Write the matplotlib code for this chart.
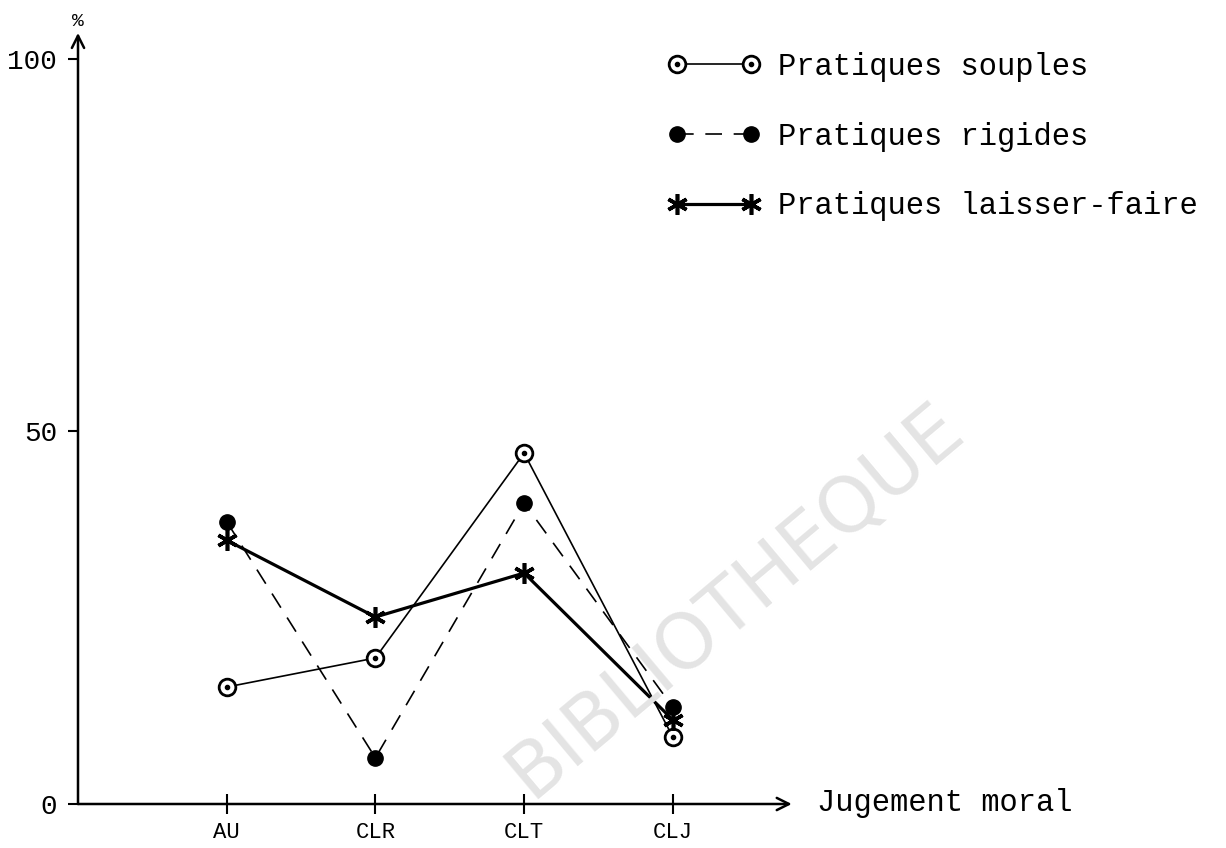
import matplotlib
matplotlib.use("Agg")
import matplotlib.pyplot as plt

# data
categories = ["AU", "CLR", "CLT", "CLJ"]
souples = [15.7, 19.6, 47.1, 9.0]
rigides = [37.9, 6.2, 40.4, 13.0]
laisser_faire = [35.4, 25.1, 31.0, 11.3]
y_ticks = [0, 50, 100]
labels = ["Pratiques souples", "Pratiques rigides", "Pratiques laisser-faire"]

plt.rcParams["font.family"] = ["Liberation Mono", "DejaVu Sans Mono"]

W, H = 1226, 848
X0, Y0 = 78, 804          # pixel position of the origin
SX, SY = 148.7, 7.45      # pixels per x unit / per y unit

fig = plt.figure(figsize=(W / 100, H / 100), dpi=100)
ax = fig.add_axes([X0 / W, (H - Y0) / H, (W - X0) / W, (Y0 - 10) / H])
ax.set_xlim(0, (W - X0) / SX)
ax.set_ylim(0, (Y0 - 10) / SY)
for s in ax.spines.values():
    s.set_visible(False)

# watermark
fig.text(735 / W, 1 - 600 / H, "BIBLIOTHEQUE", fontsize=55, color="#e4e4e4",
         rotation=40, ha="center", va="center", family="DejaVu Sans", zorder=0)

# axes drawn as arrows
arrow = dict(arrowstyle="->", lw=1.8, color="black", mutation_scale=22,
             shrinkA=0, shrinkB=0)
ax.annotate("", xy=(0, 103.5), xytext=(0, 0), arrowprops=arrow)
ax.annotate("", xy=(4.8, 0), xytext=(0, 0), arrowprops=arrow)

x = range(1, len(categories) + 1)

l1, = ax.plot(x, souples, color="black", lw=1.2, marker="o", ms=12,
              mfc="white", mec="black", mew=2.0, zorder=3)
d1, = ax.plot(x, souples, ls="none", marker="o", ms=3, color="black", zorder=4)
l2, = ax.plot(x, rigides, color="black", lw=1.2, ls=(0, (10, 7)), marker="o",
              ms=11, zorder=3)
l3, = ax.plot(x, laisser_faire, color="black", lw=2.3, marker=(6, 2, 0),
              ms=15, mew=2.6, zorder=3)

ax.set_xticks(list(x))
ax.set_xticklabels(categories, fontsize=16)
ax.tick_params(axis="x", direction="inout", length=14, width=1.5, pad=6)
ax.set_yticks(y_ticks)
ax.set_yticklabels([str(v) for v in y_ticks], fontsize=20)
ax.tick_params(axis="y", direction="out", length=7, width=1.5, pad=8)

fig.text(X0 / W, 1 - 21 / H, "%", fontsize=14, ha="center", va="center")
fig.text(817 / W, 1 - 803 / H, "Jugement moral", fontsize=22,
         ha="left", va="center")

leg = ax.legend([(l1, d1), l2, l3], labels,
                loc="upper left", bbox_to_anchor=(668 / W, 1 - 52 / H),
                bbox_transform=fig.transFigure, frameon=False, numpoints=2,
                fontsize=22, handlelength=3.0, handletextpad=0.6,
                labelspacing=1.3, borderpad=0, borderaxespad=0)

fig.savefig("out.png", dpi=100)
